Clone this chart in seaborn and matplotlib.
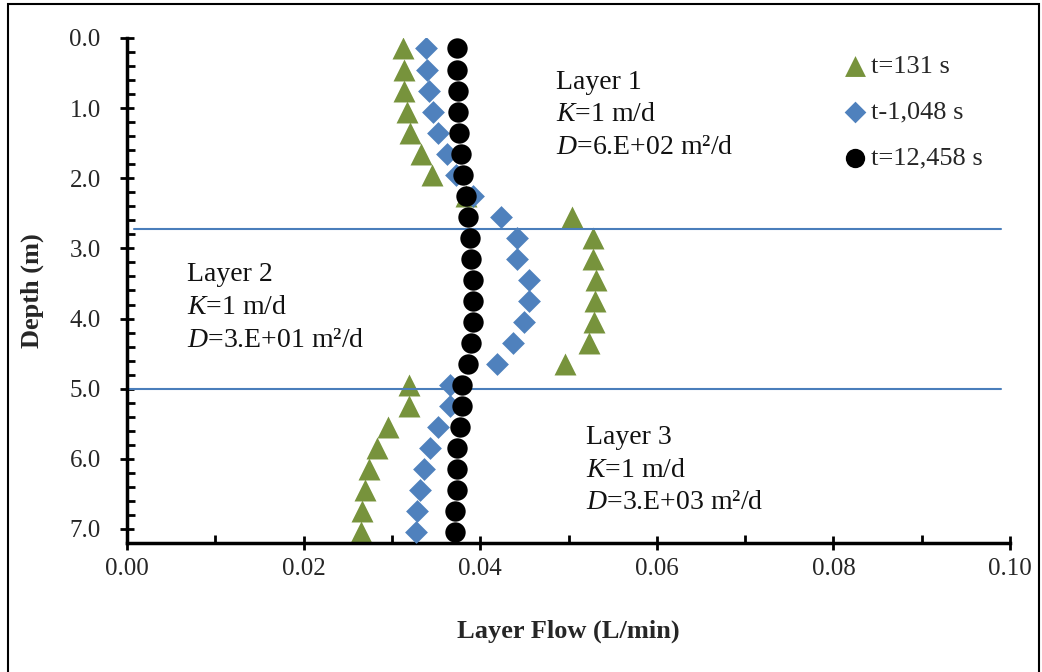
import numpy as np
import pandas as pd
import matplotlib
matplotlib.use("Agg")
import matplotlib.pyplot as plt
from matplotlib.patches import Rectangle
from matplotlib.ticker import MultipleLocator, FormatStrFormatter
import seaborn as sns

# Depth of each measurement point (m)
depth = [0.15, 0.45, 0.75, 1.05, 1.35, 1.65, 1.95, 2.25, 2.55, 2.85, 3.15, 3.45,
         3.75, 4.05, 4.35, 4.65, 4.95, 5.25, 5.55, 5.85, 6.15, 6.45, 6.75, 7.05]

# Layer flow (L/min) at three times
flow_t131 = [0.0313, 0.0314, 0.0314, 0.0317, 0.0320, 0.0333, 0.0345, 0.0384,
             0.0504, 0.0528, 0.0528, 0.0531, 0.0530, 0.0529, 0.0523, 0.0496,
             0.0319, 0.0319, 0.0296, 0.0283, 0.0274, 0.0270, 0.0266, 0.0265]
flow_t1048 = [0.0339, 0.0340, 0.0342, 0.0347, 0.0352, 0.0362, 0.0373, 0.0392,
              0.0424, 0.0442, 0.0442, 0.0455, 0.0455, 0.0450, 0.0437, 0.0419,
              0.0366, 0.0366, 0.0352, 0.0343, 0.0336, 0.0332, 0.0328, 0.0327]
flow_t12458 = [0.0374, 0.0374, 0.0375, 0.0375, 0.0376, 0.0378, 0.0381, 0.0384,
               0.0386, 0.0388, 0.0390, 0.0392, 0.0392, 0.0392, 0.0390, 0.0386,
               0.0379, 0.0379, 0.0377, 0.0374, 0.0374, 0.0374, 0.0371, 0.0371]

series_labels = ["t=131 s", "t-1,048 s", "t=12,458 s"]

# Layer interfaces (m)
boundary_depths = [2.73, 5.0]

layer_texts = [
    "Layer 1\n$\\mathit{K}$=1 m/d\n$\\mathit{D}$=6.E+02 m²/d",
    "Layer 2\n$\\mathit{K}$=1 m/d\n$\\mathit{D}$=3.E+01 m²/d",
    "Layer 3\n$\\mathit{K}$=1 m/d\n$\\mathit{D}$=3.E+03 m²/d",
]

sns.set_theme(style="white")
plt.rcParams["font.family"] = ["Liberation Serif", "DejaVu Serif"]
plt.rcParams["mathtext.fontset"] = "custom"
plt.rcParams["mathtext.rm"] = "Liberation Serif"
plt.rcParams["mathtext.it"] = "Liberation Serif:italic"

df = pd.DataFrame({
    "depth": depth * 3,
    "flow": flow_t131 + flow_t1048 + flow_t12458,
    "series": [series_labels[0]] * len(depth) + [series_labels[1]] * len(depth)
              + [series_labels[2]] * len(depth),
})

fig = plt.figure(figsize=(10.42, 6.72), dpi=100)
ax = fig.add_axes([0.1219, 0.192, 0.9693 - 0.1219, 0.9435 - 0.192])

styles = [
    (series_labels[0], "^", "#77933C", 250, 2.0),
    (series_labels[1], "D", "#4F81BD", 135, 3.0),
    (series_labels[2], "o", "#000000", 215, 3.5),
]
for lab, mk, col, size, z in styles:
    sns.scatterplot(data=df[df["series"] == lab], x="flow", y="depth", marker=mk,
                    color=col, s=size, linewidth=0, label=lab, zorder=z, ax=ax)

ax.plot([0.0008, 0.0990], [boundary_depths[0]] * 2, color="#4A7EBB", lw=1.5, zorder=2.5)
ax.plot([0.0, 0.0990], [boundary_depths[1]] * 2, color="#4A7EBB", lw=1.5, zorder=2.5)

ax.set_xlim(0, 0.10)
ax.set_ylim(7.2, 0)

ax.xaxis.set_major_locator(MultipleLocator(0.02))
ax.xaxis.set_minor_locator(MultipleLocator(0.01))
ax.yaxis.set_major_locator(MultipleLocator(1.0))
ax.yaxis.set_minor_locator(MultipleLocator(0.2))
ax.xaxis.set_major_formatter(FormatStrFormatter("%.2f"))
ax.yaxis.set_major_formatter(FormatStrFormatter("%.1f"))

for side in ["top", "right"]:
    ax.spines[side].set_visible(False)
for side in ["left", "bottom"]:
    ax.spines[side].set_color("black")
    ax.spines[side].set_linewidth(2.5)

ax.tick_params(axis="both", which="major", direction="inout", length=10, width=2,
               color="black", labelsize=18)
ax.tick_params(axis="y", which="major", pad=14)
ax.tick_params(axis="x", which="major", pad=6)
ax.tick_params(axis="both", which="minor", direction="in", length=6, width=2,
               color="black")
ax.tick_params(axis="y", which="both", left=True)
ax.tick_params(axis="x", which="both", bottom=True)

ax.set_xlabel("Layer Flow (L/min)", fontsize=19, fontweight="bold", labelpad=28)
ax.set_ylabel("Depth (m)", fontsize=19, fontweight="bold", labelpad=18)

text_pos = [(0.0486, 0.45), (0.0068, 3.2), (0.052, 5.52)]
for (tx, ty), txt in zip(text_pos, layer_texts):
    ax.text(tx, ty, txt, fontsize=20, va="top", ha="left", linespacing=1.4,
            color="#111111")

leg = ax.legend(loc="upper left", bbox_to_anchor=(0.798, 0.935),
                bbox_transform=fig.transFigure, frameon=False, fontsize=19,
                handletextpad=0.1, labelspacing=0.85, borderaxespad=0,
                handlelength=1.0, markerscale=0.95)

fig.patches.append(Rectangle((8 / 1042, -0.01), (1039 - 8) / 1042, 1.01 - 4 / 672,
                             transform=fig.transFigure, fill=False,
                             edgecolor="black", linewidth=1.5))

fig.savefig("out.png", dpi=100)
